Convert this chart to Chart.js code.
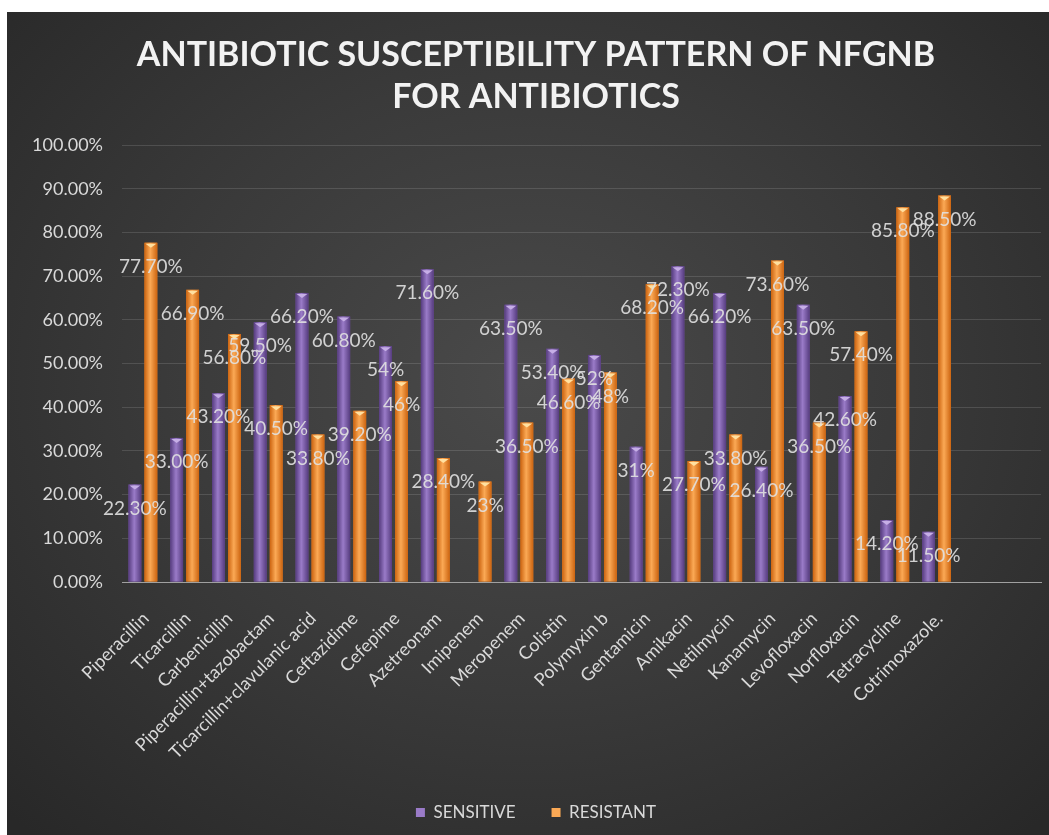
<!DOCTYPE html>
<html>
<head>
<meta charset="utf-8">
<script src="https://cdn.jsdelivr.net/npm/chart.js@4.4.1/dist/chart.umd.min.js"></script>
<style>
  html, body { margin: 0; padding: 0; background: #ffffff; }
  #wrap {
    position: absolute; left: 7px; top: 12px; width: 1042px; height: 823px;
    background: radial-gradient(ellipse 70% 75% at 50% 45%, #4a4a4a 0%, #3a3a3a 50%, #282828 100%);
  }
  canvas { display: block; }
</style>
</head>
<body>
<div id="wrap"><canvas id="c" width="1042" height="823"></canvas></div>
<script>
const categories = [
  "Piperacillin", "Ticarcillin", "Carbenicillin", "Piperacillin+tazobactam",
  "Ticarcillin+clavulanic acid", "Ceftazidime", "Cefepime", "Azetreonam",
  "Imipenem", "Meropenem", "Colistin", "Polymyxin b", "Gentamicin", "Amikacin",
  "Netilmycin", "Kanamycin", "Levofloxacin", "Norfloxacin", "Tetracycline", "Cotrimoxazole."
];
const sensitive = [22.3, 33.0, 43.2, 59.5, 66.2, 60.8, 54, 71.6, null, 63.5, 53.4, 52, 31, 72.3, 66.2, 26.4, 63.5, 42.6, 14.2, 11.5];
const resistant = [77.7, 66.9, 56.8, 40.5, 33.8, 39.2, 46, 28.4, 23, 36.5, 46.6, 48, 68.2, 27.7, 33.8, 73.6, 36.5, 57.4, 85.8, 88.5];
const sensitiveLabels = ["22.30%", "33.00%", "43.20%", "59.50%", "66.20%", "60.80%", "54%", "71.60%", "", "63.50%", "53.40%", "52%", "31%", "72.30%", "66.20%", "26.40%", "63.50%", "42.60%", "14.20%", "11.50%"];
const resistantLabels = ["77.70%", "66.90%", "56.80%", "40.50%", "33.80%", "39.20%", "46%", "28.40%", "23%", "36.50%", "46.60%", "48%", "68.20%", "27.70%", "33.80%", "73.60%", "36.50%", "57.40%", "85.80%", "88.50%"];
const titleLines = ["ANTIBIOTIC SUSCEPTIBILITY PATTERN OF NFGNB", "FOR ANTIBIOTICS"];
// the original axis keeps two empty slots after the last antibiotic
const axisLabels = categories.concat(["", ""]);

const shades = [
  { base: '#7a58a6', dark: '#563c7f', light: '#9a7bc8', cap: '#c6aee6' },
  { base: '#f0862a', dark: '#cc6410', light: '#fba955', cap: '#ffe0a0' }
];

const barShading = {
  id: 'barShading',
  afterDatasetDraw(chart, args) {
    const ctx = chart.ctx;
    const meta = args.meta;
    const sh = shades[args.index];
    ctx.save();
    meta.data.forEach((bar, i) => {
      const v = chart.data.datasets[args.index].data[i];
      if (v === null || v === undefined) return;
      const { x, y, base, width } = bar.getProps(['x', 'y', 'base', 'width'], true);
      const l = x - width / 2, r = x + width / 2;
      const g = ctx.createLinearGradient(l, 0, r, 0);
      g.addColorStop(0, sh.dark);
      g.addColorStop(0.45, sh.light);
      g.addColorStop(1, sh.dark);
      ctx.fillStyle = g;
      ctx.fillRect(l, y, width, base - y);
      ctx.fillStyle = sh.cap;
      ctx.beginPath();
      ctx.moveTo(l + 1, y + 1);
      ctx.lineTo(r - 1, y + 1);
      ctx.lineTo(x, y + 5);
      ctx.closePath();
      ctx.fill();
    });
    ctx.restore();
  }
};

const dataLabels = {
  id: 'dataLabels',
  afterDatasetsDraw(chart) {
    const ctx = chart.ctx;
    ctx.save();
    ctx.font = '19px Lato';
    ctx.fillStyle = 'rgba(225,225,225,0.9)';
    ctx.textAlign = 'center';
    ctx.textBaseline = 'middle';
    const labelSets = [sensitiveLabels, resistantLabels];
    chart.data.datasets.forEach((ds, di) => {
      const meta = chart.getDatasetMeta(di);
      meta.data.forEach((bar, i) => {
        const txt = labelSets[di][i];
        if (!txt || ds.data[i] === null) return;
        ctx.fillText(txt, bar.x, bar.y + 24);
      });
    });
    ctx.restore();
  }
};

new Chart(document.getElementById('c'), {
  type: 'bar',
  data: {
    labels: axisLabels,
    datasets: [
      { label: 'SENSITIVE', data: sensitive, backgroundColor: shades[0].base, borderWidth: 0,
        categoryPercentage: 0.766, barPercentage: 0.8 },
      { label: 'RESISTANT', data: resistant, backgroundColor: shades[1].base, borderWidth: 0,
        categoryPercentage: 0.766, barPercentage: 0.8 }
    ]
  },
  options: {
    responsive: false,
    animation: false,
    layout: { padding: { left: 24, right: 8, top: 0, bottom: 4 } },
    plugins: {
      title: {
        display: true,
        text: titleLines,
        color: '#f2f2f2',
        font: { family: 'Lato', size: 34, weight: 'bold', lineHeight: 1.24 },
        padding: { top: 22, bottom: 27 }
      },
      legend: {
        position: 'bottom',
        labels: {
          color: '#d9d9d9',
          font: { family: 'Lato', size: 17 },
          boxWidth: 9, boxHeight: 9, padding: 36,
          generateLabels(chart) {
            return chart.data.datasets.map((ds, i) => ({
              text: ds.label, fillStyle: shades[i].light, strokeStyle: shades[i].light,
              lineWidth: 0, datasetIndex: i, fontColor: '#d9d9d9'
            }));
          }
        }
      },
      tooltip: { enabled: false }
    },
    scales: {
      x: {
        grid: { display: false },
        border: { display: true, color: '#a0a0a0', width: 1 },
        ticks: {
          color: '#d9d9d9', font: { family: 'Lato', size: 18 },
          minRotation: 45, maxRotation: 45, autoSkip: false, padding: 18, labelOffset: 3
        },
        afterFit(scale) { scale.height = 186; scale.paddingRight = 0; }
      },
      y: {
        min: 0, max: 100,
        border: { display: false },
        grid: {
          color: 'rgba(255,255,255,0.13)', lineWidth: 1, drawTicks: false
        },
        ticks: {
          stepSize: 10, color: '#d9d9d9', font: { family: 'Lato', size: 18 }, padding: 19,
          callback: (v) => v.toFixed(2) + '%'
        },
        afterFit(scale) { scale.width = 91; }
      }
    }
  },
  plugins: [barShading, dataLabels]
});
</script>
</body>
</html>
